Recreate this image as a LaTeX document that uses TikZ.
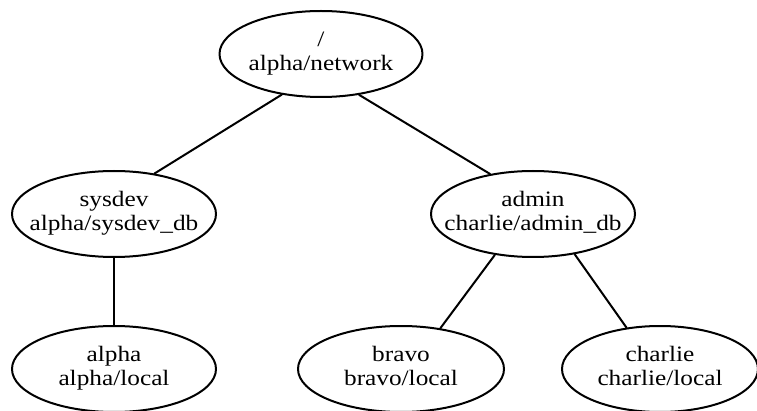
\documentclass[tikz,border=0pt]{standalone}
\usepackage{fontspec}
\setmainfont{Liberation Serif}[FakeStretch=1.15]
\usetikzlibrary{shapes.geometric}

\newcommand{\zweizeilig}[2]{\makebox[0pt]{\begin{tabular}{@{}c@{}}#1\\#2\end{tabular}}}

\begin{document}
\begin{tikzpicture}[line cap=round,line join=round,x=1pt,y=-1pt,
		knoten/.style={draw=black,ellipse,line width=2pt,inner sep=0pt,
			minimum height=86pt,font=\fontsize{22}{23.5}\selectfont},
		kante/.style={draw=black,line width=2pt}]
		\useasboundingbox (0,0) rectangle (757,411);

		% Wurzel
		\node[knoten,minimum width=203pt] (root) at (321,54) {\zweizeilig{/}{alpha/network}};

		% zweite Ebene
		\node[knoten,minimum width=204pt] (sysdev) at (114,214) {\zweizeilig{sysdev}{alpha/sysdev\_db}};
		\node[knoten,minimum width=204pt] (admin) at (533,214) {\zweizeilig{admin}{charlie/admin\_db}};

		% Blaetter
		\node[knoten,minimum width=204pt] (alpha) at (114,369) {\zweizeilig{alpha}{alpha/local}};
		\node[knoten,minimum width=206pt] (bravo) at (401,369) {\zweizeilig{bravo}{bravo/local}};
		\node[knoten,minimum width=196pt] (charlie) at (660,369) {\zweizeilig{charlie}{charlie/local}};

		% Kanten
		\draw[kante] (root.226) -- (sysdev.45);
		\draw[kante] (root.313) -- (admin.137);
		\draw[kante] (sysdev.south) -- (alpha.north);
		\draw[kante] (admin.227) -- (bravo.46);
		\draw[kante] (admin.316) -- (charlie.129);
	\end{tikzpicture}
\end{document}
